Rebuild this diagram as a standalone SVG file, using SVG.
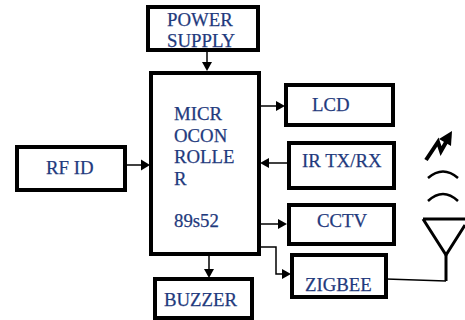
<svg xmlns="http://www.w3.org/2000/svg" width="465" height="320" viewBox="0 0 465 320">
<defs>
<style>
.box{fill:#fff;stroke:#000;stroke-width:4}
.t{font-family:"Liberation Serif","Times New Roman",serif;font-size:18.800px;fill:#1f3a7d;stroke:#1f3a7d;stroke-width:.25}
.c{fill:none;stroke:#000;stroke-width:1.500}
.a{fill:#000;stroke:none}
.s{fill:none;stroke:#000;stroke-width:2.500}
</style>
</defs>
<rect width="465" height="320" fill="#fff"/>
<g id="connectors">
<path class="c" d="M207 51V64"/><path class="a" d="M202 62H212L207 71Z"/>
<path class="c" d="M126 165H143"/><path class="a" d="M141 159.500L150 165L141 170.500Z"/>
<path class="c" d="M260 106H277"/><path class="a" d="M276 101L285 106L276 111Z"/>
<path class="c" d="M269 163H288"/><path class="a" d="M269 158L260 163L269 168Z"/>
<path class="c" d="M260 224H279"/><path class="a" d="M278 219L287 224L278 229Z"/>
<path class="c" d="M260 247H276V274H284"/><path class="a" d="M282 269L291 274L282 279Z"/>
<path class="c" d="M209 255V270"/><path class="a" d="M204 269H214L209 278Z"/>
<path class="c" d="M386 279L446 281"/>
</g>
<g id="power-supply"><rect class="box" x="148" y="7" width="110" height="43"/><text class="t" x="167" y="26">POWER</text><text class="t" x="167" y="47">SUPPLY</text></g>
<g id="microcontroller"><rect class="box" x="151" y="73" width="108" height="181"/><text class="t" x="174" y="120">MICR</text><text class="t" x="174" y="142">OCON</text><text class="t" x="174" y="163">ROLLE</text><text class="t" x="174" y="185">R</text><text class="t" x="174" y="227">89s52</text></g>
<g id="rf-id"><rect class="box" x="17" y="147" width="108" height="43"/><text class="t" x="46" y="174">RF ID</text></g>
<g id="lcd"><rect class="box" x="286" y="85" width="107" height="40"/><text class="t" x="312" y="111">LCD</text></g>
<g id="ir-tx-rx"><rect class="box" x="289" y="143" width="105" height="45"/><text class="t" x="302" y="167">IR TX/RX</text></g>
<g id="cctv"><rect class="box" x="289" y="205" width="105" height="39"/><text class="t" x="317" y="227">CCTV</text></g>
<g id="zigbee"><rect class="box" x="292" y="255" width="94" height="42"/><text class="t" x="305" y="291">ZIGBEE</text></g>
<g id="buzzer"><rect class="box" x="155" y="279" width="97" height="39"/><text class="t" x="164" y="306">BUZZER</text></g>
<g id="antenna">
<path d="M423 219H465M423 219L446 255L465 225" fill="none" stroke="#000" stroke-width="3"/>
<path d="M446 255V281" fill="none" stroke="#000" stroke-width="3"/>
<path class="s" d="M428 178Q443 165 458 178"/>
<path class="s" d="M428 201Q443 187 458 201"/>
<path d="M426 160L438 142L441 151L449 137" fill="none" stroke="#000" stroke-width="4"/>
<path class="a" d="M439 139L452 131L451 146Z"/>
</g>
</svg>
